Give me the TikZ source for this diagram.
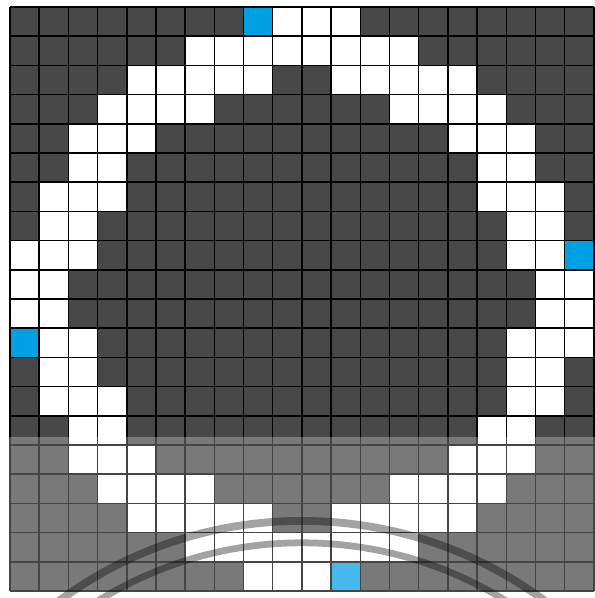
\documentclass[tikz,border=0pt]{standalone}
\usepackage{tikz}
\definecolor{boarddark}{RGB}{72,72,72}
\definecolor{pixelblue}{RGB}{0,160,228}

\tikzset{
    gridline/.style={black, line width=0.7pt},
    ringcell/.style={fill=white},
    markcell/.style={fill=pixelblue},
    scanarc/.style={black, opacity=0.36, line width=3.8pt}
}

\begin{document}
\begin{tikzpicture}[x=0.5cm, y=-0.5cm]
    \useasboundingbox (-0.342,-0.240) rectangle (20.034,20.240);
    \fill[white] (-0.342,-0.240) rectangle (20.034,20.240);

    \fill[boarddark] (0,0) rectangle (20,20);

    % white ring, row by row
    \foreach \r/\cols in {0/{9,10,11}, 1/{6,...,13}, 2/{4,...,8,11,12,13,14,15},
        3/{3,4,5,6,13,14,15,16}, 4/{2,3,4,15,16,17}, 5/{2,3,16,17},
        6/{1,2,3,16,17,18}, 7/{1,2,17,18}, 8/{0,1,2,17,18}, 9/{0,1,18,19},
        10/{0,1,18,19}, 11/{1,2,17,18,19}, 12/{1,2,17,18}, 13/{1,2,3,17,18},
        14/{2,3,16,17}, 15/{2,3,4,15,16,17}, 16/{3,4,5,6,13,14,15,16},
        17/{4,...,8,11,12,13,14,15}, 18/{6,...,13}, 19/{8,9,10}}
        \foreach \c in \cols
            \fill[ringcell] (\c,\r) rectangle ++(1,1);

    % blue cells
    \foreach \c/\r in {8/0, 19/8, 0/11, 11/19}
        \fill[markcell] (\c,\r) rectangle ++(1,1);

    \foreach \i in {0,...,20} {
        \draw[gridline] (\i,0) -- (\i,20);
        \draw[gridline] (0,\i) -- (20,\i);
    }

    % lighter lower part of the scan
    \fill[white, opacity=0.27] (-0.342,14.72) rectangle (20.034,20.240);

    \begin{scope}
        \clip (-0.342,-0.240) rectangle (20.034,20.240);
        \draw[scanarc] (10,31.6) circle (14);
        \draw[scanarc, line width=3.3pt] (10,31.6) circle (13.25);
    \end{scope}
\end{tikzpicture}
\end{document}
